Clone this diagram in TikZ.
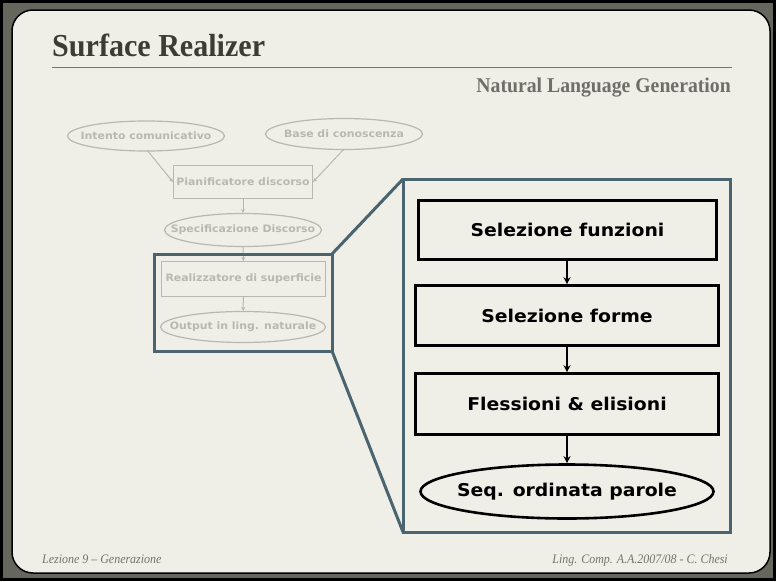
\documentclass[tikz,border=0pt]{standalone}
\usepackage{fontspec}
\usetikzlibrary{shapes.geometric,arrows.meta}
\newfontfamily\titlefont[FakeStretch=0.94,Ligatures=TeX]{Liberation Serif}
\newfontfamily\footfont[FakeStretch=0.92,Ligatures=TeX]{Liberation Serif}
\newfontfamily\boxfont[FakeStretch=1.07]{DejaVu Sans}
\definecolor{frameout}{HTML}{65675D}
\definecolor{paper}{HTML}{EFEEE7}
\definecolor{titlegray}{HTML}{3C3C37}
\definecolor{rule}{HTML}{D9501A}
\definecolor{subgray}{HTML}{6E6E6A}
\definecolor{footgray}{HTML}{74746F}
\definecolor{steel}{HTML}{4B6570}
\definecolor{faded}{HTML}{B8B8B2}
\tikzset{
  fadedtext/.style={text=faded, font=\boxfont\bfseries\fontsize{10.2}{12}\selectfont, inner sep=0pt},
  fadedbox/.style={draw=faded, line width=1.2pt, fadedtext},
  fadedell/.style={draw=faded, line width=1.2pt, ellipse, inner sep=0pt},
  fadedarrow/.style={draw=faded, line width=1pt, -{Stealth[length=4pt,width=4pt]}},
  stagetext/.style={text=black, font=\boxfont\bfseries\fontsize{17.6}{20}\selectfont, inner sep=0pt},
  stagebox/.style={draw=black, line width=2.6pt, stagetext},
  stageell/.style={draw=black, line width=2.6pt, ellipse, inner sep=0pt},
  stagearrow/.style={draw=black, line width=2.4pt, -{Stealth[length=7pt,width=7pt]}},
  zoomline/.style={draw=steel, line width=3pt, line join=miter},
}
\begin{document}
\begin{tikzpicture}[x=1pt,y=-1pt]
\useasboundingbox (0,0) rectangle (776,581);
% slide frame
\fill[frameout] (0,0) rectangle (776,581);
\draw[black, line width=3pt] (1.5,1.5) rectangle (774.5,579.5);
\draw[black, line width=1.5pt, fill=paper, rounded corners=21pt] (12,10) rectangle (770,573);

% heading
\node[anchor=base west, inner sep=0pt, text=titlegray, font=\titlefont\bfseries\fontsize{32}{35}\selectfont] (title) at (52,56) {Surface Realizer};
\draw[rule, line width=1.6pt] (52,67.5) -- (732,67.5);
\node[anchor=base east, inner sep=0pt, text=subgray, font=\titlefont\bfseries\fontsize{21}{24}\selectfont] (subtitle) at (731,92) {Natural Language Generation};

% footer
\node[anchor=base west, inner sep=0pt, text=footgray, font=\footfont\itshape\fontsize{13}{15}\selectfont] (footl) at (42,563) {Lezione 9 – Generazione};
\node[anchor=base east, inner sep=0pt, text=footgray, font=\footfont\itshape\fontsize{13}{15}\selectfont] (footr) at (728,563) {Ling. Comp. A.A.2007/08 - C. Chesi};

% faded overall pipeline
\node[fadedell, minimum width=157pt, minimum height=30pt,
      label={[fadedtext]center:Intento comunicativo}] (intent) at (146,136) {};
\node[fadedell, minimum width=157pt, minimum height=31pt,
      label={[fadedtext]center:Base di conoscenza}] (base) at (344,134) {};
\node[fadedbox, minimum width=139pt, minimum height=33pt] (plan) at (243,182) {Pianificatore discorso};
\node[fadedell, minimum width=157pt, minimum height=33pt,
      label={[fadedtext]center:Specificazione Discorso}] (spec) at (243,230) {};
\node[fadedbox, minimum width=164pt, minimum height=35pt] (real) at (243.5,279) {Realizzatore di superficie};
\node[fadedell, minimum width=165pt, minimum height=31pt,
      label={[fadedtext]center:Output in ling. naturale}] (out) at (243,327) {};
\draw[fadedarrow] (147,150) -- (plan.west);
\draw[fadedarrow] (344,149) -- (plan.east);
\draw[fadedarrow] (plan) -- (spec);
\draw[fadedarrow] (spec) -- (real);
\draw[fadedarrow] (real) -- (out);

% zoom frames
\coordinate (sA) at (154,254);
\coordinate (sB) at (332,254);
\coordinate (sC) at (332,351);
\coordinate (sD) at (154,351);
\coordinate (bA) at (403,179);
\coordinate (bB) at (730,179);
\coordinate (bC) at (730,532);
\coordinate (bD) at (403,532);
\draw[zoomline] (sA) -- (sB) -- (sC) -- (sD) -- cycle;
\draw[zoomline] (bA) -- (bB) -- (bC) -- (bD) -- cycle;
\draw[zoomline] (sB) -- (bA);
\draw[zoomline] (sC) -- (bD);

% detailed stages
\node[stagebox, minimum width=298pt, minimum height=59pt] (s1) at (567.5,230) {Selezione funzioni};
\node[stagebox, minimum width=303pt, minimum height=60pt] (s2) at (567,315.5) {Selezione forme};
\node[stagebox, minimum width=303pt, minimum height=61pt] (s3) at (567,404) {Flessioni \& elisioni};
\node[stageell, minimum width=293pt, minimum height=54pt,
      label={[stagetext]center:Seq. ordinata parole}] (s4) at (567,491.5) {};
\draw[stagearrow] (s1.south -| s2.north) -- (s2.north);
\draw[stagearrow] (s2.south) -- (s3.north);
\draw[stagearrow] (s3.south) -- (s4.north);
\end{tikzpicture}
\end{document}
